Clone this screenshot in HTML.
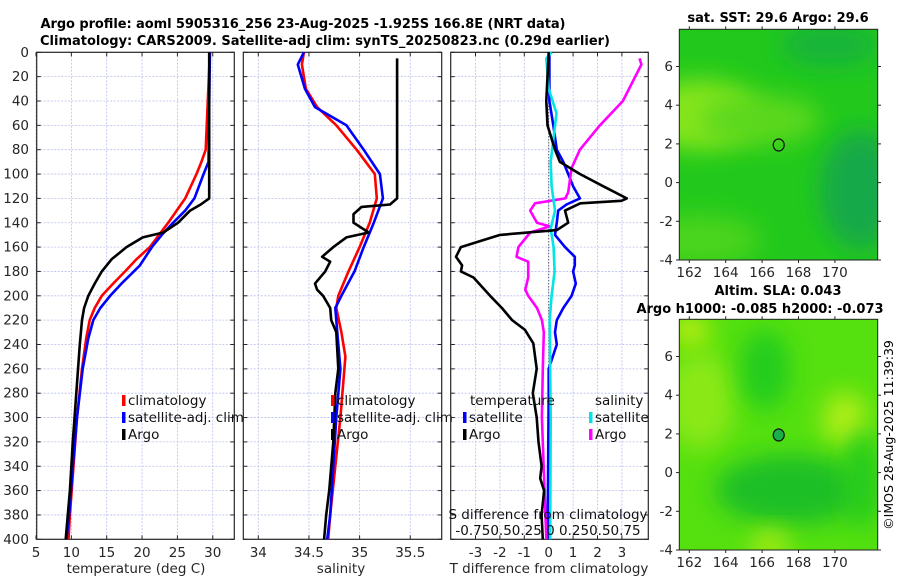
<!DOCTYPE html>
<html><head><meta charset="utf-8"><style>
body{margin:0;background:#fff;}
svg{display:block;font-family:"DejaVu Sans","Liberation Sans",sans-serif;}
</style></head><body>
<svg id="fig" width="900" height="580" viewBox="0 0 900 580">
<defs>
<filter id="blur1" x="-50%" y="-50%" width="200%" height="200%"><feGaussianBlur stdDeviation="12"/></filter>
<clipPath id="clipM1"><rect x="679.3" y="29.3" width="198.4" height="230.7"/></clipPath>
<clipPath id="clipM2"><rect x="679.3" y="319.3" width="198.4" height="230.7"/></clipPath>
</defs>
<text x="303" y="28" font-size="13" font-weight="bold" text-anchor="middle" textLength="525">Argo profile: aoml 5905316_256 23-Aug-2025 -1.925S 166.8E (NRT data)</text>
<text x="325" y="45" font-size="13" font-weight="bold" text-anchor="middle" textLength="570">Climatology: CARS2009. Satellite-adj clim: synTS_20250823.nc (0.29d earlier)</text>
<g id="plots"></g>
<!-- maps -->
<g>
<text x="778" y="22" font-size="13" font-weight="bold" text-anchor="middle">sat. SST: 29.6 Argo: 29.6</text>
<g clip-path="url(#clipM1)">
<rect x="679.3" y="29.3" width="198.4" height="230.7" fill="#22c91c"/>
<ellipse cx="700" cy="115" rx="60" ry="35" fill="#86e51c" filter="url(#blur1)"/>
<ellipse cx="760" cy="120" rx="60" ry="25" fill="#5cd81c" filter="url(#blur1)"/>
<ellipse cx="700" cy="240" rx="60" ry="25" fill="#4cd41c" filter="url(#blur1)"/>
<ellipse cx="860" cy="190" rx="40" ry="60" fill="#13a94a" filter="url(#blur1)"/>
<ellipse cx="830" cy="45" rx="50" ry="22" fill="#16b43a" filter="url(#blur1)"/>
</g>
<rect x="679.3" y="29.3" width="198.4" height="230.7" fill="none" stroke="#222" stroke-width="1"/>
<ellipse cx="778.7" cy="145" rx="5.5" ry="6" fill="none" stroke="#111" stroke-width="1.2"/>
</g>
<g>
<text x="778" y="295" font-size="13" font-weight="bold" text-anchor="middle">Altim. SLA: 0.043</text>
<text x="760" y="313" font-size="13" font-weight="bold" text-anchor="middle">Argo h1000: -0.085 h2000: -0.073</text>
<g clip-path="url(#clipM2)">
<rect x="679.3" y="319.3" width="198.4" height="230.7" fill="#55e010"/>
<ellipse cx="700" cy="400" rx="35" ry="50" fill="#8ae812" filter="url(#blur1)"/>
<ellipse cx="845" cy="420" rx="22" ry="28" fill="#b0ee14" filter="url(#blur1)"/>
<ellipse cx="765" cy="370" rx="25" ry="40" fill="#20cc1c" filter="url(#blur1)"/>
<ellipse cx="790" cy="490" rx="75" ry="35" fill="#1cbf26" filter="url(#blur1)"/>
<ellipse cx="862" cy="480" rx="18" ry="50" fill="#26cc1c" filter="url(#blur1)"/>
<ellipse cx="770" cy="545" rx="20" ry="15" fill="#a8ea12" filter="url(#blur1)"/>
<ellipse cx="690" cy="330" rx="20" ry="15" fill="#c0ee10" filter="url(#blur1)"/>
</g>
<rect x="679.3" y="319.3" width="198.4" height="230.7" fill="none" stroke="#222" stroke-width="1"/>
<ellipse cx="778.7" cy="435" rx="5.5" ry="6" fill="#1aaf4a" stroke="#111" stroke-width="1.2"/>
</g>
<g id="mapaxes"></g>
<text transform="translate(893,435) rotate(-90)" font-size="12.5" text-anchor="middle">©IMOS 28-Aug-2025 11:39:39</text>
</svg>
<script>
// ---------- data ----------
const depthTicks=[0,20,40,60,80,100,120,140,160,180,200,220,240,260,280,300,320,340,360,380,400];
const tempTicks=[5,10,15,20,25,30];
const salTicks=[34,34.5,35,35.5];
const salTickLabels=["34","34.5","35","35.5"];
const dTTicks=[-3,-2,-1,0,1,2,3];
const lonTicks=[162,164,166,168,170];
const latTicks=[-4,-2,0,2,4,6];

const tArgoD=[0,120,125,130,140,148,152,160,170,180,190,200,210,220,240,280,320,360,380,400];
const tArgoV=[29.5,29.5,28.3,26.8,25.1,23,20.1,17.8,15.7,14.3,13.3,12.4,11.8,11.5,11.2,10.7,10.2,9.8,9.5,9.2];
const tClimD=[0,80,90,100,120,140,160,170,180,190,200,210,220,235,260,300,340,380,400];
const tClimV=[29.6,29.0,28.4,27.7,26.1,23.7,21.1,19.2,17.6,15.9,14.3,13.3,12.6,12.1,11.5,10.8,10.3,9.8,9.6];
const tSatD=[0,90,100,120,130,140,150,160,175,190,200,210,220,235,260,300,340,380,400];
const tSatV=[29.6,29.4,28.7,27.4,26.1,24.4,22.8,21.4,19.7,17.1,15.5,14.1,13.1,12.4,11.6,10.8,10.2,9.7,9.3];

const sArgoD=[5,120,125,127,133,140,148,152,160,168,172,180,190,195,200,210,220,230,260,280,320,360,380,400];
const sArgoV=[35.37,35.37,35.30,35.02,34.94,34.94,35.09,34.87,34.74,34.63,34.71,34.66,34.56,34.58,34.64,34.71,34.72,34.77,34.79,34.76,34.74,34.70,34.67,34.65];
const sClimD=[0,10,30,45,60,80,100,120,140,160,180,200,210,230,250,270,300,340,380,400];
const sClimV=[34.45,34.43,34.47,34.58,34.77,34.97,35.15,35.17,35.10,35.00,34.89,34.79,34.77,34.82,34.86,34.84,34.81,34.76,34.71,34.69];
const sSatD=[0,10,30,45,60,80,100,120,140,160,180,200,210,230,260,300,340,380,400];
const sSatV=[34.45,34.39,34.46,34.56,34.87,35.04,35.20,35.23,35.14,35.04,34.95,34.82,34.76,34.78,34.81,34.77,34.74,34.71,34.68];

const dtArgoD=[0,40,60,80,90,100,110,120,122,124,130,140,146,150,155,160,168,175,180,185,200,210,220,228,239,260,280,300,320,340,350,360,380,400];
const dtArgoV=[0,-0.1,-0.05,0.26,0.46,1.28,2.23,3.2,2.98,1.3,0.67,0.8,0.33,-1.99,-2.8,-3.6,-3.8,-3.55,-3.6,-3.08,-2.4,-1.92,-1.5,-0.97,-0.63,-0.49,-0.65,-0.49,-0.42,-0.29,-0.35,-0.19,-0.29,-0.24];
const dtSatD=[0,40,60,80,90,100,110,120,125,130,140,150,160,168,175,180,190,200,210,220,230,240,260,280,400];
const dtSatV=[0.03,0.03,0.19,0.33,0.6,0.8,1.0,1.28,0.73,0.39,0.33,0.26,0.67,1.07,1.07,1.0,1.11,0.94,0.6,0.33,0.26,0.33,0,0,-0.05];
const dsArgoD=[5,10,40,60,80,95,115,120,124,130,140,143,148,160,168,172,185,195,200,210,220,230,260,300,400];
const dsArgoV=[0.93,0.95,0.76,0.525,0.32,0.235,0.2,0.17,-0.14,-0.19,-0.12,0.01,-0.19,-0.31,-0.33,-0.21,-0.21,-0.24,-0.21,-0.12,-0.07,-0.05,-0.06,-0.07,-0.025];
const dsSatD=[0,5,30,50,70,90,110,130,145,160,180,200,220,300,400];
const dsSatV=[0.03,-0.025,0,0.08,0.05,0.02,0.03,0.065,0.02,0.05,0.06,0.03,0.01,0.02,0.015];

// ---------- axes ----------
const Y0=52.3, Y1=539.3;
const yD=d=>Y0+(Y1-Y0)*d/400;
const P1={l:36.7,r:234.3}, P2={l:243.3,r:441.7}, P3={l:450.7,r:648.3};
const xT=t=>36+(t-5)*7.07;
const xS=s=>258.3+(s-34)*101.3;
const xdT=v=>548.7+v*24.4;
const xdS=v=>548.7+v*97.6;
const FS=13.5;
const NS="http://www.w3.org/2000/svg";
const root=document.getElementById('plots');
function el(tag,attrs,parent){const e=document.createElementNS(NS,tag);for(const k in attrs)e.setAttribute(k,attrs[k]);(parent||root).appendChild(e);return e;}
function txt(x,y,s,attrs,parent){const e=el('text',Object.assign({x:x,y:y,'font-size':FS,fill:'#262626'},attrs||{}),parent);e.textContent=s;return e;}

function panel(P,name,xticks,xf,labels){
  const g=el('g',{});
  
  
  depthTicks.forEach(d=>{const l=el('line',{x1:P.l,x2:P.r,y1:yD(d),y2:yD(d),stroke:'#b8bfee','stroke-width':0.8,'stroke-dasharray':'2,1.5'},g);});
  xticks.forEach(t=>{const l=el('line',{x1:xf(t),x2:xf(t),y1:Y0,y2:Y1,stroke:'#b8bfee','stroke-width':0.8,'stroke-dasharray':'2,1.5'},g);});
  depthTicks.forEach(d=>{el('line',{x1:P.l,x2:P.l+4,y1:yD(d),y2:yD(d),stroke:'#262626'},g);el('line',{x1:P.r,x2:P.r-4,y1:yD(d),y2:yD(d),stroke:'#262626'},g);});
  xticks.forEach((t,i)=>{el('line',{x1:xf(t),x2:xf(t),y1:Y1,y2:Y1-4,stroke:'#262626'},g);el('line',{x1:xf(t),x2:xf(t),y1:Y0,y2:Y0+4,stroke:'#262626'},g);
    const tl=txt(xf(t),557,labels?labels[i]:String(t),{'text-anchor':'middle'},g);
    
    });
  const fr=el('rect',{x:P.l,y:Y0,width:P.r-P.l,height:Y1-Y0,fill:'none',stroke:'#262626','stroke-width':1.2},g);
  
  
  return g;
}
function line(g,D,V,xf,color,name){
  const pts=D.map((d,i)=>xf(V[i]).toFixed(1)+','+yD(d).toFixed(1)).join(' ');
  const p=el('polyline',{points:pts,fill:'none',stroke:color,'stroke-width':2.6,'stroke-linejoin':'round'},g);
  
  
}
function legend(g,x,y,color,label,name){
  const r=el('rect',{x:x-2,y:y-9,width:3.5,height:11,fill:color},g);
  
  
  const t=txt(x+4,y+1,label,{fill:'#111'},g);
  
  
}

depthTicks.forEach(d=>{const t=txt(29,yD(d)+4.5,String(d),{'text-anchor':'end'});});

// panel 1
const g1=panel(P1,'temperature',tempTicks,xT);
line(g1,tClimD,tClimV,xT,'#ff0000','temp-climatology-line');
line(g1,tSatD,tSatV,xT,'#0000ff','temp-satellite-line');
line(g1,tArgoD,tArgoV,xT,'#000000','temp-argo-line');
legend(g1,124,404,'#ff0000','climatology','legend-climatology');
legend(g1,124,421,'#0000ff','satellite-adj. clim','legend-satellite');
legend(g1,124,438,'#000000','Argo','legend-argo');
const xl1=txt(136,573,'temperature (deg C)',{'text-anchor':'middle'});



// panel 2
const g2=panel(P2,'salinity',salTicks,xS,salTickLabels);
line(g2,sClimD,sClimV,xS,'#ff0000','sal-climatology-line');
line(g2,sSatD,sSatV,xS,'#0000ff','sal-satellite-line');
line(g2,sArgoD,sArgoV,xS,'#000000','sal-argo-line');
legend(g2,333,404,'#ff0000','climatology','legend-climatology-2');
legend(g2,333,421,'#0000ff','satellite-adj. clim','legend-satellite-2');
legend(g2,333,438,'#000000','Argo','legend-argo-2');
const xl2=txt(341,573,'salinity',{'text-anchor':'middle'});



// panel 3
const g3=panel(P3,'difference',dTTicks,xdT);
const zl=el('line',{x1:xdT(0),x2:xdT(0),y1:Y0,y2:Y1,stroke:'#333','stroke-width':1,'stroke-dasharray':'1,2'},g3);


line(g3,dtSatD,dtSatV,xdT,'#0000ff','dT-satellite-line');
line(g3,dsArgoD,dsArgoV,xdS,'#ff00ff','dS-argo-line');
line(g3,dsSatD,dsSatV,xdS,'#00e5e5','dS-satellite-line');
line(g3,dtArgoD,dtArgoV,xdT,'#000000','dT-argo-line');
const lt=txt(470,405,'temperature',{fill:'#111'},g3);
const ls=txt(595,405,'salinity',{fill:'#111'},g3);
legend(g3,465,421,'#0000ff','satellite','legend-dT-satellite');
legend(g3,465,438,'#000000','Argo','legend-dT-argo');
legend(g3,591,421,'#00e5e5','satellite','legend-dS-satellite');
legend(g3,591,438,'#ff00ff','Argo','legend-dS-argo');
const s1=txt(548,519,'S difference from climatology',{'text-anchor':'middle',fill:'#111'},g3);
const s2=txt(548,535,'-0.750.50.25 0 0.250.50.75',{'text-anchor':'middle',fill:'#111'},g3);
const xl3=txt(549,573,'T difference from climatology',{'text-anchor':'middle'});



// map axes
const ma=document.getElementById('mapaxes');
const xLon=l=>689.3+(l-162)*18.2;
[[29.3,260],[319.3,550]].forEach(([top,bot],mi)=>{
  const yLat=la=>bot-(la+4)*19.35;
  lonTicks.forEach(l=>{el('line',{x1:xLon(l),x2:xLon(l),y1:bot,y2:bot+3,stroke:'#262626'},ma);el('line',{x1:xLon(l),x2:xLon(l),y1:top,y2:top-3,stroke:'#262626'},ma);
    const t=txt(xLon(l),bot+17,String(l),{'text-anchor':'middle'},ma);});
  latTicks.forEach(la=>{el('line',{x1:679.3,x2:676,y1:yLat(la),y2:yLat(la),stroke:'#262626'},ma);el('line',{x1:877.7,x2:881,y1:yLat(la),y2:yLat(la),stroke:'#262626'},ma);
    const t=txt(673,yLat(la)+4.5,String(la),{'text-anchor':'end'},ma);});
});
</script>
</body></html>
